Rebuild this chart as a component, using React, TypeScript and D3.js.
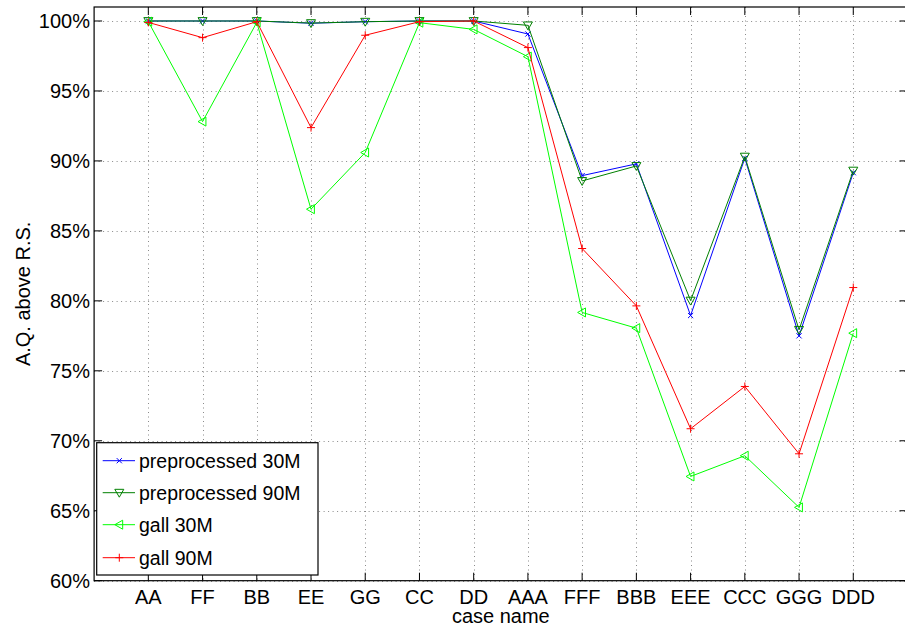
import React from "react";
import * as d3 from "d3";

const categories = ["AA", "FF", "BB", "EE", "GG", "CC", "DD", "AAA", "FFF", "BBB", "EEE", "CCC", "GGG", "DDD"];
const pre30 = [100, 100, 100, 99.84, 99.95, 100, 100, 99.07, 88.95, 89.79, 78.95, 90.19, 77.5, 89.16];
const pre90 = [100, 100, 100, 99.85, 99.95, 100, 100, 99.69, 88.57, 89.64, 80.02, 90.31, 77.93, 89.31];
const gall30 = [99.95, 92.81, 99.9, 86.55, 90.6, 99.88, 99.4, 97.45, 79.17, 78.05, 67.45, 68.93, 65.24, 77.69];
const gall90 = [99.9, 98.81, 99.95, 92.38, 98.98, 99.95, 100, 98.1, 83.74, 79.64, 70.86, 73.88, 69.07, 80.95];
const yTicks = [60, 65, 70, 75, 80, 85, 90, 95, 100];
const seriesNames = ["preprocessed 30M", "preprocessed 90M", "gall 30M", "gall 90M"];
const seriesColors = ["#0000ff", "#008000", "#00ff00", "#ff0000"];
const seriesMarkers = ["x", "v", "<", "+"];
const seriesValues = [pre30, pre90, gall30, gall90];

const W = 905;
const H = 631;
const left = 94.1;
const right = 907.5;
const top = 7;
const bottom = 580.7;
const FONT = "'Liberation Sans', Arial, Helvetica, sans-serif";
const FS = 20;

function Marker({ type, x, y, color }: { type: string; x: number; y: number; color: string }) {
  if (type === "x") {
    const r = 2.6;
    return (
      <path d={`M${x - r},${y - r}L${x + r},${y + r}M${x - r},${y + r}L${x + r},${y - r}`} stroke={color} strokeWidth={1} fill="none" />
    );
  }
  if (type === "+") {
    const r = 4;
    return <path d={`M${x - r},${y}L${x + r},${y}M${x},${y - r}L${x},${y + r}`} stroke={color} strokeWidth={1} fill="none" />;
  }
  if (type === "v") {
    const r = 4.5;
    return (
      <path d={`M${x - r},${y - r * 0.75}L${x + r},${y - r * 0.75}L${x},${y + r}Z`} stroke={color} strokeWidth={1} fill="none" />
    );
  }
  const r = 4.5;
  return <path d={`M${x + r * 0.75},${y - r}L${x + r * 0.75},${y + r}L${x - r},${y}Z`} stroke={color} strokeWidth={1} fill="none" />;
}

export default function App() {
  const x = d3.scalePoint<string>().domain(categories).range([left, right]).padding(1);
  const y = d3.scaleLinear().domain([60, 101]).range([bottom, top]);
  const line = d3
    .line<number>()
    .x((_, i) => x(categories[i]) as number)
    .y((d) => y(d));

  const tickLen = 8;
  const legX = 96.7;
  const legY = 442.7;
  const legW = 221.3;
  const legH = 132.3;
  const rowY = [460.7, 492.7, 524.7, 557.7];

  return (
    <svg width={W} height={H} style={{ position: "absolute", left: 0, top: 0, overflow: "hidden" }} fontFamily={FONT}>
      <rect x={0} y={0} width={W} height={H} fill="#fff" />
      <g stroke="#8a8a8a" strokeWidth={1} strokeDasharray="1,3.5">
        {yTicks.map((t) => (
          <line key={"gy" + t} x1={left} x2={right} y1={Math.round(y(t)) + 0.5} y2={Math.round(y(t)) + 0.5} />
        ))}
        {categories.map((c) => (
          <line key={"gx" + c} x1={Math.round(x(c) as number) + 0.5} x2={Math.round(x(c) as number) + 0.5} y1={top} y2={bottom} />
        ))}
      </g>
      {seriesValues.map((vals, si) => (
        <g key={"s" + si}>
          <path d={line(vals) || ""} fill="none" stroke={seriesColors[si]} strokeWidth={1} />
          {vals.map((v, i) => (
            <Marker key={i} type={seriesMarkers[si]} x={x(categories[i]) as number} y={y(v)} color={seriesColors[si]} />
          ))}
        </g>
      ))}
      <rect x={left} y={top} width={right - left} height={bottom - top} fill="none" stroke="#000" strokeWidth={1.2} />
      <g stroke="#000" strokeWidth={1}>
        {yTicks.map((t) => (
          <g key={"ty" + t}>
            <line x1={left} x2={left + tickLen} y1={y(t)} y2={y(t)} />
            <line x1={right - tickLen} x2={right} y1={y(t)} y2={y(t)} />
          </g>
        ))}
        {categories.map((c) => (
          <g key={"tx" + c}>
            <line x1={x(c) as number} x2={x(c) as number} y1={bottom} y2={bottom - tickLen} />
            <line x1={x(c) as number} x2={x(c) as number} y1={top} y2={top + tickLen} />
          </g>
        ))}
      </g>
      <g fontSize={FS} fill="#000">
        {yTicks.map((t) => (
          <text key={"ly" + t} x={90} y={y(t) + 7.2} textAnchor="end">
            {t + "%"}
          </text>
        ))}
        {categories.map((c) => (
          <text key={"lx" + c} x={x(c) as number} y={604.3} textAnchor="middle">
            {c}
          </text>
        ))}
      </g>
      <text x={(left + right) / 2} y={622.7} textAnchor="middle" fontSize={FS}>
        case name
      </text>
      <text transform={`translate(30,${(top + bottom) / 2}) rotate(-90)`} textAnchor="middle" fontSize={FS}>
        A.Q. above R.S.
      </text>
      <rect x={legX} y={legY} width={legW} height={legH} fill="#fff" stroke="#000" strokeWidth={1.2} />
      {seriesNames.map((n, i) => (
        <g key={"leg" + i}>
          <line x1={102.7} x2={135} y1={rowY[i]} y2={rowY[i]} stroke={seriesColors[i]} strokeWidth={1} />
          <Marker type={seriesMarkers[i]} x={119.3} y={rowY[i]} color={seriesColors[i]} />
          <text x={139} y={rowY[i] + 7.2} fontSize={19.5}>
            {n}
          </text>
        </g>
      ))}
    </svg>
  );
}
